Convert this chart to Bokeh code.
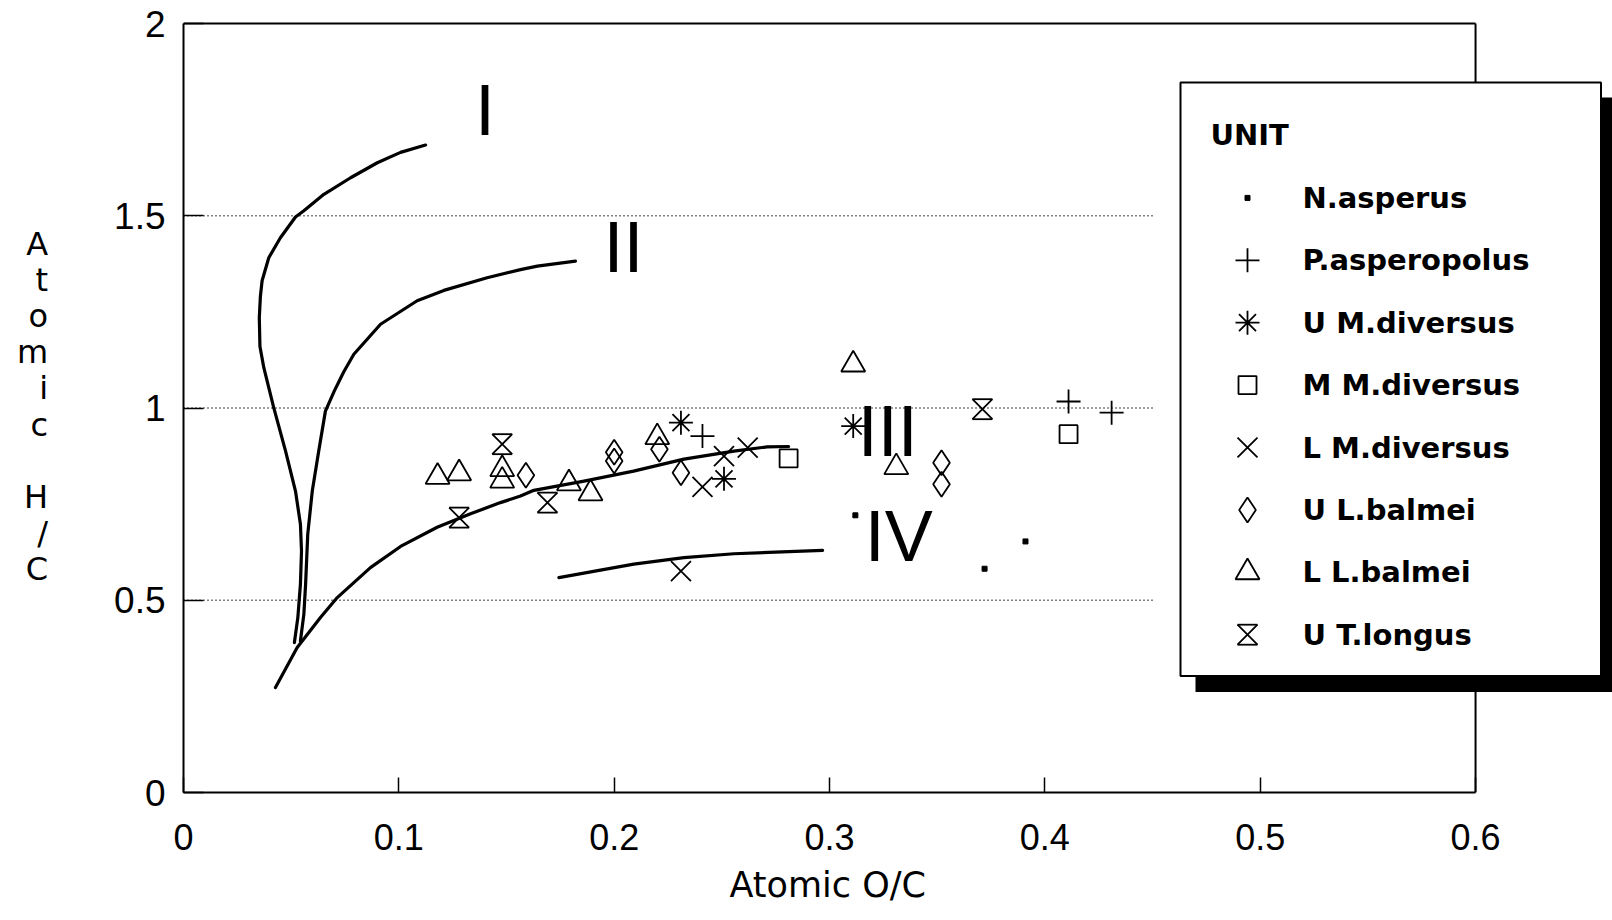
from bokeh.plotting import figure
from bokeh.models import FixedTicker, Range1d, Title
from bokeh.core.properties import value
from bokeh.embed import file_html
from bokeh.resources import INLINE

# ---------------- data ----------------
x_ticks = [0, 0.1, 0.2, 0.3, 0.4, 0.5, 0.6]
x_tick_labels = ["0", "0.1", "0.2", "0.3", "0.4", "0.5", "0.6"]
y_ticks = [0, 0.5, 1, 1.5, 2]
y_tick_labels = ["0", "0.5", "1", "1.5", "2"]
grid_levels = [0.5, 1.0, 1.5]

# evolution paths (kerogen types)
curve_I_x = [0.0515, 0.0531, 0.0543, 0.0548, 0.0543, 0.0520, 0.0474, 0.0419, 0.0373, 0.0355,
             0.0352, 0.0357, 0.0365, 0.0396, 0.0450, 0.0520, 0.0559, 0.0652, 0.0776, 0.0900,
             0.1008, 0.1124]
curve_I_y = [0.390, 0.455, 0.542, 0.628, 0.698, 0.784, 0.888, 1.001, 1.105, 1.160,
             1.235, 1.290, 1.331, 1.391, 1.443, 1.497, 1.513, 1.556, 1.599, 1.638,
             1.665, 1.684]
curve_II_x = [0.0543, 0.0559, 0.0567, 0.0577, 0.0598, 0.0628, 0.0659, 0.0700, 0.0745, 0.0791,
              0.0915, 0.1085, 0.1209, 0.1410, 0.1565, 0.1643, 0.1820]
curve_II_y = [0.394, 0.464, 0.542, 0.672, 0.784, 0.888, 0.992, 1.044, 1.095, 1.140,
              1.218, 1.279, 1.306, 1.339, 1.360, 1.369, 1.382]
curve_III_x = [0.0427, 0.0528, 0.0636, 0.0714, 0.0868, 0.1008, 0.1178, 0.1333, 0.1472, 0.1565,
               0.1627, 0.1860, 0.2090, 0.2324, 0.2556, 0.2710, 0.2810]
curve_III_y = [0.273, 0.377, 0.455, 0.507, 0.585, 0.640, 0.690, 0.725, 0.754, 0.771,
               0.786, 0.810, 0.836, 0.867, 0.888, 0.899, 0.900]
curve_IV_x = [0.1743, 0.2091, 0.2324, 0.2556, 0.2968]
curve_IV_y = [0.559, 0.594, 0.611, 0.621, 0.630]

curve_names = ["I", "II", "III", "IV"]
curve_label_x = [0.140, 0.2043, 0.327, 0.3322]
curve_label_y = [1.775, 1.418, 0.941, 0.668]

units = ["N.asperus", "P.asperopolus", "U M.diversus", "M M.diversus",
         "L M.diversus", "U L.balmei", "L L.balmei", "U T.longus"]

n_asperus_x = [0.312, 0.372, 0.391]
n_asperus_y = [0.721, 0.582, 0.653]
p_asperopolus_x = [0.241, 0.411, 0.431]
p_asperopolus_y = [0.927, 1.017, 0.988]
u_mdiv_x = [0.231, 0.251, 0.311]
u_mdiv_y = [0.962, 0.816, 0.953]
m_mdiv_x = [0.281, 0.411]
m_mdiv_y = [0.869, 0.932]
l_mdiv_x = [0.231, 0.241, 0.251, 0.262]
l_mdiv_y = [0.576, 0.795, 0.875, 0.897]
u_lbal_x = [0.159, 0.200, 0.200, 0.221, 0.231, 0.352, 0.352]
u_lbal_y = [0.825, 0.885, 0.862, 0.893, 0.832, 0.858, 0.802]
l_lbal_x = [0.118, 0.128, 0.148, 0.148, 0.179, 0.189, 0.220, 0.311, 0.331]
l_lbal_y = [0.821, 0.830, 0.841, 0.811, 0.804, 0.778, 0.924, 1.113, 0.846]
u_tlong_x = [0.128, 0.148, 0.169, 0.371]
u_tlong_y = [0.715, 0.906, 0.754, 0.997]

# ---------------- layout helpers (pixel -> data) ----------------
W, H = 1612, 920
LEFT, TOP, BOTTOM = 183, 20, 128
X_END, Y_END = 0.6636, 2.008
PX_X = (W - LEFT) / X_END
PX_Y = (H - TOP - BOTTOM) / Y_END
FRAME_BOTTOM = H - BOTTOM


def dx(px):
    return (px - LEFT) / PX_X


def dy(py):
    return (FRAME_BOTTOM - py) / PX_Y


p = figure(width=W, height=H, output_backend="svg", toolbar_location=None,
           x_range=Range1d(0, X_END), y_range=Range1d(0, Y_END),
           min_border_left=LEFT, min_border_right=0, min_border_top=TOP,
           min_border_bottom=BOTTOM)
p.outline_line_color = None
p.xgrid.visible = False
p.ygrid.visible = False
p.background_fill_color = "white"
p.border_fill_color = "white"

TICK_FONT = "Liberation Sans"
TITLE_FONT = "DejaVu Sans"

xa = p.xaxis[0]
xa.bounds = (0, 0.6)
xa.ticker = FixedTicker(ticks=x_ticks)
xa.major_label_overrides = {t: l for t, l in zip(x_ticks, x_tick_labels)}
xa.major_tick_in = 15
xa.major_tick_out = 0
xa.minor_tick_line_color = None
xa.axis_line_width = 2
xa.major_tick_line_width = 1.5
xa.major_label_text_font = TICK_FONT
xa.major_label_text_font_size = "36px"
xa.major_label_text_color = "black"
xa.major_label_standoff = 31

ya = p.yaxis[0]
ya.bounds = (0, 2)
ya.ticker = FixedTicker(ticks=y_ticks)
ya.major_label_overrides = {t: l for t, l in zip(y_ticks, y_tick_labels)}
ya.major_tick_in = 20
ya.major_tick_out = 0
ya.minor_tick_line_color = None
ya.axis_line_width = 2
ya.major_tick_line_width = 1.5
ya.major_label_text_font = TICK_FONT
ya.major_label_text_font_size = "37px"
ya.major_label_text_color = "black"
ya.major_label_standoff = 18
ya.axis_label = "\n".join(list("Atomic")) + "\n\n" + "\n".join(list("H/C"))
ya.axis_label_orientation = "horizontal"
ya.axis_label_text_font = TITLE_FONT
ya.axis_label_text_font_style = "normal"
ya.axis_label_text_font_size = "32px"
ya.axis_label_text_line_height = 0.95
ya.axis_label_text_color = "black"
ya.axis_label_standoff = 63

# x axis title, placed under the 0..0.6 part of the axis (left edge offset from the frame)
p.add_layout(Title(text="Atomic O/C", align="left", offset=546,
                   text_font=TITLE_FONT, text_font_size="35px", text_font_style="normal",
                   text_color="black", standoff=20), "below")

# frame top and right edges (axis box 0..0.6 x 0..2)
p.segment(x0=[0, 0.6], y0=[2, 0], x1=[0.6, 0.6], y1=[2, 2], line_color="black", line_width=2)

# dotted reference levels
p.segment(x0=[0] * len(grid_levels), x1=[0.45] * len(grid_levels), y0=grid_levels, y1=grid_levels,
          line_color="black", line_width=1.6, line_dash="1 3")

# evolution curves
for cx, cy in [(curve_I_x, curve_I_y), (curve_II_x, curve_II_y),
               (curve_III_x, curve_III_y), (curve_IV_x, curve_IV_y)]:
    p.line(cx, cy, line_color="black", line_width=3.2, line_join="round", line_cap="round")

p.text(x=curve_label_x, y=curve_label_y, text=curve_names, text_font=value("Liberation Sans"),
       text_font_size="72px", text_align="center", text_baseline="alphabetic", text_color="black")

MK = dict(line_color="black", line_width=1.8, fill_color=None)
HG = 10  # hourglass half-height in px
X_SCALE = 1.41  # bokeh's "x" marker is drawn smaller than its nominal size


def hourglass(xs, ys):
    p.scatter(xs, ys, marker="x", size=2 * HG * X_SCALE, **MK)
    p.scatter(xs, [v + HG / PX_Y for v in ys], marker="dash", size=2 * HG, **MK)
    p.scatter(xs, [v - HG / PX_Y for v in ys], marker="dash", size=2 * HG, **MK)


def draw_series(kind, xs, ys):
    if kind == "dot":
        p.scatter(xs, ys, marker="square", size=5, line_color="black", fill_color="black")
    elif kind == "hourglass":
        hourglass(xs, ys)
    else:
        marker, size = kind
        p.scatter(xs, ys, marker=marker, size=size, **MK)


kinds = ["dot", ("cross", 24), ("asterisk", 24), ("square", 18), ("x", 20 * X_SCALE),
         ("diamond", 25), ("triangle", 24), "hourglass"]
series = [(n_asperus_x, n_asperus_y), (p_asperopolus_x, p_asperopolus_y), (u_mdiv_x, u_mdiv_y),
          (m_mdiv_x, m_mdiv_y), (l_mdiv_x, l_mdiv_y), (u_lbal_x, u_lbal_y),
          (l_lbal_x, l_lbal_y), (u_tlong_x, u_tlong_y)]
for k, (sx, sy) in zip(kinds, series):
    draw_series(k, sx, sy)

# ---------------- legend box with drop shadow ----------------
p.quad(left=[dx(1195)], right=[X_END + 0.01], top=[dy(97)], bottom=[dy(691.5)],
       fill_color="black", line_color=None)
p.quad(left=[dx(1180)], right=[dx(1600.5)], top=[dy(82)], bottom=[dy(675.5)],
       fill_color="white", line_color="black", line_width=2)

LEG_FONT = value("DejaVu Sans")
p.text(x=[dx(1210)], y=[dy(134)], text=["UNIT"], text_font=LEG_FONT, text_font_style="bold",
       text_font_size="29px", text_baseline="middle", text_align="left", text_color="black")
row_y = [dy(197.4 + 62.4 * i) for i in range(len(units))]
mx = dx(1247)
for k, ry in zip(kinds, row_y):
    draw_series(k, [mx], [ry])
p.text(x=[dx(1302)] * len(units), y=row_y, text=units, text_font=LEG_FONT, text_font_style="bold",
       text_font_size="29px", text_baseline="middle", text_align="left", text_color="black")

open("out.html", "w").write(file_html(p, INLINE))
